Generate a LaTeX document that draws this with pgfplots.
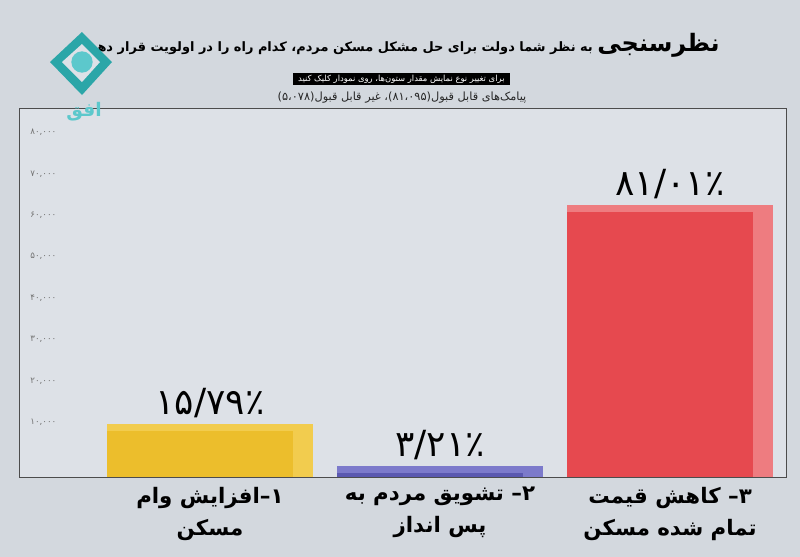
\documentclass[border=0pt]{standalone}
\usepackage{pgfplots}
\pgfplotsset{compat=1.18}
\usepackage{fontspec}
\setmainfont{DejaVu Sans}
\newfontfamily\arabicfont[Script=Arabic]{DejaVu Sans}
\TeXXeTstate=1
\definecolor{bg}{HTML}{D3D8DE}
\definecolor{plotbg}{HTML}{DDE1E7}
\definecolor{cyel}{HTML}{ECBE2C}
\definecolor{cyelL}{HTML}{F2CC4E}
\definecolor{cblue}{HTML}{5A58B0}
\definecolor{cblueL}{HTML}{7C7ACB}
\definecolor{cred}{HTML}{E6494F}
\definecolor{credL}{HTML}{EE7C80}
\definecolor{logo}{HTML}{2BA6A8}
\definecolor{logoL}{HTML}{5CC8CC}
\begin{document}
\begin{tikzpicture}
\fill[bg] (0pt,0pt) rectangle (600pt,-417.75pt);
\begin{axis}[
  at={(14.25pt,-357.75pt)}, anchor=south west,
  scale only axis, width=575.25pt, height=276.75pt,
  xmin=-0.830, xmax=2.504, ymin=0, ymax=89000,
  axis background/.style={fill=plotbg},
  axis line style={draw=gray!60!black, line width=0.6pt},
  ybar,
  tick style={draw=none},
  scaled y ticks=false,
  xtick={0,1,2},
  xticklabels={
    {\beginR ۱{}–{}افزایش وام\endR\\\beginR مسکن\endR},
    {\beginR ۲{}–{} تشویق مردم به\endR\\\beginR پس انداز\endR},
    {\beginR ۳{}–{} کاهش قیمت\endR\\\beginR تمام شده مسکن\endR}},
  xticklabel style={font=\arabicfont\bfseries\fontsize{16}{24}\selectfont, align=center, text=black},
  ytick={10000,20000,30000,40000,50000,60000,70000,80000},
  yticklabels={{۱۰,۰۰۰},{۲۰,۰۰۰},{۳۰,۰۰۰},{۴۰,۰۰۰},{۵۰,۰۰۰},{۶۰,۰۰۰},{۷۰,۰۰۰},{۸۰,۰۰۰}},
  yticklabel style={anchor=west, xshift=5pt, yshift=9.75pt, font=\arabicfont\fontsize{6.5}{7}\selectfont, text=gray!90!black},
  point meta=explicit symbolic,
  nodes near coords style={font=\arabicfont\fontsize{27}{28}\selectfont, text=black, anchor=south, inner sep=0pt, yshift=4.5pt},
]
% full bar (top and side faces, lighter)
\addplot[fill=cyelL, draw=none, bar width=154.5pt, bar shift=0pt, nodes near coords] coordinates {(0,12805) [۱۵/۷۹٪]};
\addplot[fill=cblueL, draw=none, bar width=154.5pt, bar shift=0pt, nodes near coords] coordinates {(1,2603) [۳/۲۱٪]};
\addplot[fill=credL, draw=none, bar width=154.5pt, bar shift=0pt, nodes near coords] coordinates {(2,65695) [۸۱/۰۱٪]};
% front faces
\addplot[fill=cyel, draw=none, bar width=139.5pt, bar shift=-7.5pt] coordinates {(0,11105)};
\addplot[fill=cblue, draw=none, bar width=139.5pt, bar shift=-7.5pt] coordinates {(1,903)};
\addplot[fill=cred, draw=none, bar width=139.5pt, bar shift=-7.5pt] coordinates {(2,63995)};
\end{axis}
% titles
\node[anchor=east, font=\arabicfont\bfseries, inner sep=0] at (540pt,-33.75pt)
  {\beginR{\fontsize{18}{20}\selectfont نظرسنجی} {\fontsize{9.7}{11}\selectfont به نظر شما دولت برای حل مشکل مسکن مردم، کدام راه را در اولویت قرار دهد}\endR};
\node[fill=black, text=white, font=\arabicfont\fontsize{6.3}{7}\selectfont, inner xsep=4pt, inner ysep=1.5pt] at (301pt,-59.25pt)
  {\beginR برای تغییر نوع نمایش مقدار ستون‌ها، روی نمودار کلیک کنید\endR};
\node[font=\arabicfont\fontsize{8.5}{9}\selectfont, text=black!85] at (301.5pt,-73pt)
  {\beginR پیامک‌های قابل قبول{}\beginL(۸۱،۰۹۵)\endL{}، غیر قابل قبول{}\beginL(۵،۰۷۸)\endL\endR};
% logo
\fill[logo] (61.5pt,-24pt) -- (84pt,-46.5pt) -- (61.5pt,-71.25pt) -- (37.5pt,-46.5pt) -- cycle;
\fill[plotbg] (61.5pt,-33pt) -- (75pt,-46.5pt) -- (61.5pt,-61.5pt) -- (46.5pt,-46.5pt) -- cycle;
\fill[logoL] (61.5pt,-46.5pt) circle (8pt);
\node[font=\arabicfont\bfseries\fontsize{14}{15}\selectfont, text=logoL, inner sep=0] at (63pt,-84pt) {\beginR افق\endR};
\end{tikzpicture}
\end{document}
